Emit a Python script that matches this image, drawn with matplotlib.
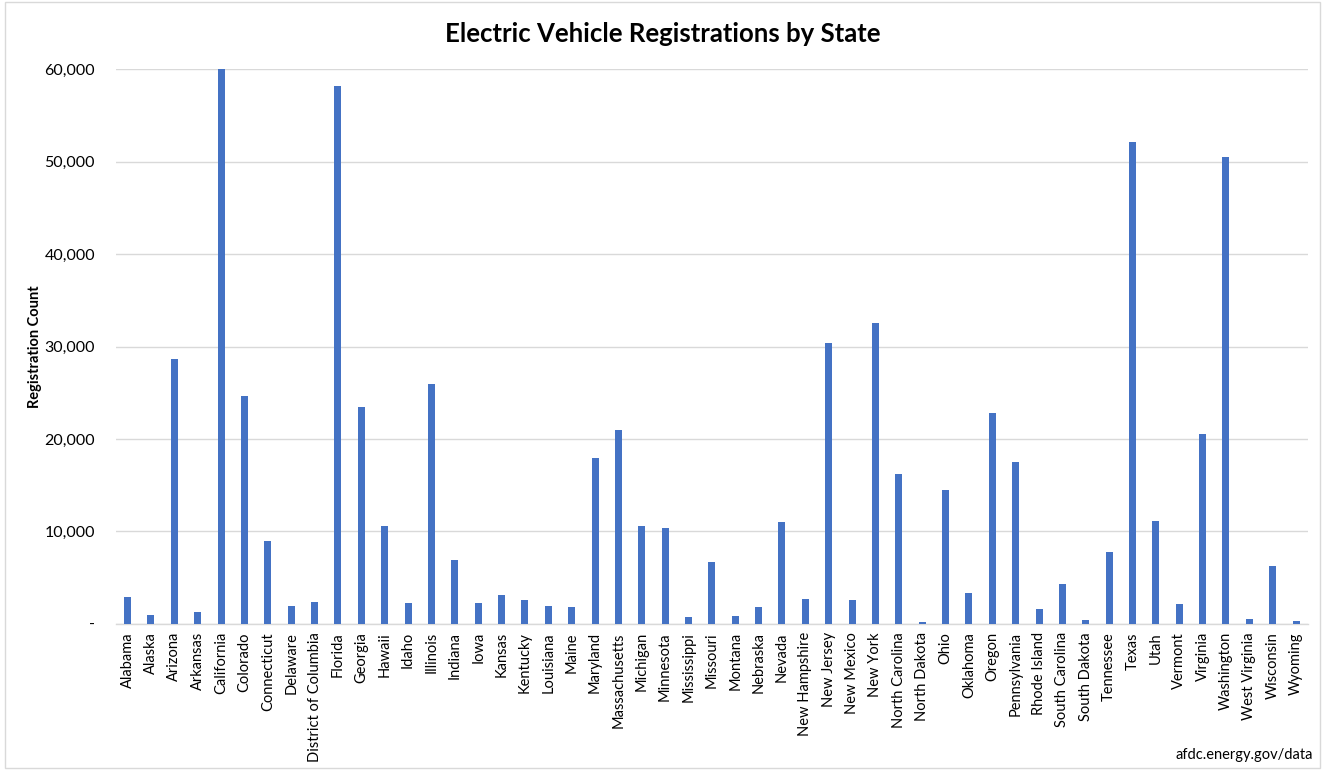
import matplotlib
matplotlib.use("Agg")
import matplotlib.pyplot as plt
from matplotlib.ticker import FuncFormatter
from matplotlib.patches import Rectangle

states = ["Alabama", "Alaska", "Arizona", "Arkansas", "California", "Colorado",
          "Connecticut", "Delaware", "District of Columbia", "Florida", "Georgia",
          "Hawaii", "Idaho", "Illinois", "Indiana", "Iowa", "Kansas", "Kentucky",
          "Louisiana", "Maine", "Maryland", "Massachusetts", "Michigan", "Minnesota",
          "Mississippi", "Missouri", "Montana", "Nebraska", "Nevada", "New Hampshire",
          "New Jersey", "New Mexico", "New York", "North Carolina", "North Dakota",
          "Ohio", "Oklahoma", "Oregon", "Pennsylvania", "Rhode Island",
          "South Carolina", "South Dakota", "Tennessee", "Texas", "Utah", "Vermont",
          "Virginia", "Washington", "West Virginia", "Wisconsin", "Wyoming"]
registrations = [2850, 900, 28700, 1270, 60000, 24640,
                 8980, 1900, 2300, 58150, 23480,
                 10600, 2240, 25970, 6930, 2200, 3060, 2600,
                 1910, 1840, 17930, 21000, 10570, 10320,
                 720, 6710, 870, 1770, 11000, 2670,
                 30380, 2560, 32580, 16160, 180,
                 14500, 3350, 22800, 17500, 1550,
                 4330, 360, 7790, 52160, 11150, 2160,
                 20490, 50540, 540, 6280, 250]
yticks = [0, 10000, 20000, 30000, 40000, 50000, 60000]

plt.rcParams['font.family'] = ['Lato', 'DejaVu Sans']

fig = plt.figure(figsize=(13.25, 7.7), dpi=100)
ax = fig.add_axes([0.0875, 0.190, 0.8995, 0.720])

x = list(range(len(states)))
ax.bar(x, registrations, width=0.3, color="#4472C4", zorder=3)
ax.set_xlim(-0.5, len(states) - 0.5)
ax.set_ylim(0, 60000)
ax.set_yticks(yticks)
ax.yaxis.set_major_formatter(FuncFormatter(lambda v, p: "-" if v == 0 else f"{int(v):,}"))
ax.set_xticks(x)
ax.set_xticklabels(states, rotation=90, fontsize=10.5)
ax.tick_params(axis='y', labelsize=11.5, length=0, pad=15)
ax.tick_params(axis='x', length=0, pad=6)
ax.grid(axis='y', color="#d9d9d9", linewidth=1, zorder=0)
for s in ["top", "right", "left"]:
    ax.spines[s].set_visible(False)
ax.spines["bottom"].set_color("#d9d9d9")
ax.spines["bottom"].set_linewidth(1)

ax.set_ylabel("Registration Count", fontsize=10.5, fontweight="bold")
ax.yaxis.set_label_coords(-0.062, 0.5)

fig.text(0.5, 0.956, "Electric Vehicle Registrations by State", ha="center", va="center",
         fontsize=18.5, fontweight="bold")
fig.text(0.991, 0.020, "afdc.energy.gov/data", ha="right", va="center", fontsize=10.5)

fig.patches.append(Rectangle((0.004, 0.003), 0.992, 0.994, transform=fig.transFigure,
                             fill=False, edgecolor="#d9d9d9", linewidth=1))

fig.savefig("out.png", dpi=100)
